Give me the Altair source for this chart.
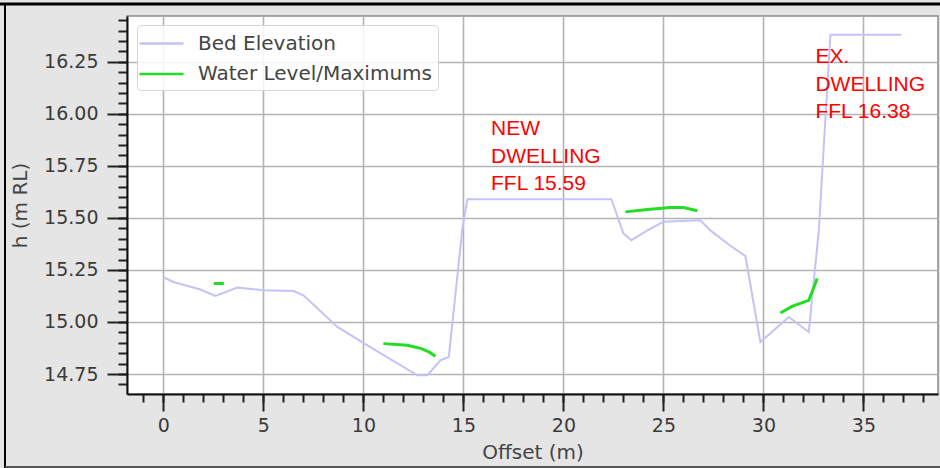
import altair as alt
import pandas as pd

# ---- data ----
bed_x = [0.0, 0.5, 1.85, 2.6, 3.7, 5.0, 6.5, 7.0, 8.7, 10.2, 12.7, 13.2, 13.85, 14.27,
         14.95, 15.2, 22.4, 23.0, 23.4, 24.2, 25.0, 26.85, 27.35, 28.3, 29.1, 29.85,
         31.27, 32.27, 32.77, 33.35, 36.9]
bed_y = [15.215, 15.192, 15.156, 15.125, 15.165, 15.152, 15.149, 15.128, 14.976, 14.888,
         14.744, 14.744, 14.816, 14.832, 15.45, 15.59, 15.59, 15.425, 15.393, 15.44,
         15.481, 15.489, 15.44, 15.37, 15.316, 14.904, 15.024, 14.952, 15.44, 16.38, 16.38]

water_seg = ["a", "a", "b", "b", "b", "b", "b", "c", "c", "c", "c", "c", "d", "d", "d", "d"]
water_x = [2.52, 3.02, 11.0, 12.2, 12.9, 13.3, 13.6, 23.1, 24.2, 25.35, 26.0, 26.7,
           30.85, 31.43, 32.27, 32.69]
water_y = [15.185, 15.185, 14.896, 14.888, 14.872, 14.855, 14.835, 15.529, 15.54, 15.55,
           15.55, 15.534, 15.043, 15.075, 15.104, 15.209]

series_names = ["Bed Elevation", "Water Level/Maximums"]
series_colors = ["#c3c3f6", "#22dd22"]

note_x = [16.38, 32.6]
note_y = [15.898, 16.242]
note_text = ["NEW\nDWELLING\nFFL 15.59", "EX.\nDWELLING\nFFL 16.38"]

x_major = [0, 5, 10, 15, 20, 25, 30, 35]
x_minor = list(range(-1, 39))
y_major = [14.75, 15.00, 15.25, 15.50, 15.75, 16.00, 16.25]
y_minor = [round(14.70 + 0.05 * i, 2) for i in range(36)]

x_domain = [-1.82, 38.73]
y_domain = [14.654, 16.47]

bed_df = pd.DataFrame({"x": bed_x, "y": bed_y, "series": series_names[0]})
water_df = pd.DataFrame({"x": water_x, "y": water_y, "seg": water_seg, "series": series_names[1]})
note_df = pd.DataFrame({"x": note_x, "y": note_y, "t": note_text})

FONT = "DejaVu Sans"
TICK_FS = 19
xs = alt.Scale(domain=x_domain, nice=False, zero=False)
ys = alt.Scale(domain=y_domain, nice=False, zero=False)

color = alt.Color(
    "series:N",
    scale=alt.Scale(domain=series_names, range=series_colors),
    legend=alt.Legend(
        title=None, orient="none", legendX=10, legendY=9,
        symbolType="M-2,0H2", symbolSize=484, symbolStrokeWidth=2.6,
        labelFont=FONT, labelFontSize=20, labelColor="#444444", labelLimit=0,
        fillColor="rgba(255,255,255,0.85)", strokeColor="#d6d6d6", cornerRadius=4,
        padding=6, rowPadding=7.5, symbolOffset=6, labelOffset=24,
    ),
)

x_axis = alt.Axis(
    orient="bottom", values=x_major, title="Offset (m)", tickSize=17, tickWidth=2,
    tickColor="#222222", domainColor="#111111", domainWidth=2,
    labelFont=FONT, labelFontSize=TICK_FS, labelColor="#3a3a3a", labelPadding=5, labelFlush=False,
    grid=True, gridColor="#b3b3b3", gridWidth=1.6,
    titleFont=FONT, titleFontSize=20, titleFontWeight="normal", titleColor="#444444",
    titleY=58, titleBaseline="middle",
)
y_axis = alt.Axis(
    orient="left", values=y_major, format=".2f", title="h (m RL)", tickSize=20, tickWidth=2,
    tickColor="#222222", domainColor="#111111", domainWidth=2,
    labelFont=FONT, labelFontSize=TICK_FS, labelColor="#3a3a3a", labelPadding=9, labelFlush=False,
    labelAlign="right", labelLimit=0,
    grid=True, gridColor="#b3b3b3", gridWidth=1.6,
    titleFont=FONT, titleFontSize=20, titleFontWeight="normal", titleColor="#444444",
    titleX=-107, titleY=189, titleAngle=270, titleBaseline="middle", titleAlign="center",
)
x_minor_axis = alt.Axis(orient="bottom", values=x_minor, labels=False, title=None, grid=False,
                        domain=False, tickSize=8, tickWidth=2, tickColor="#222222")
y_minor_axis = alt.Axis(orient="left", values=y_minor, labels=False, title=None, grid=False,
                        domain=False, tickSize=9, tickWidth=2, tickColor="#222222")

bed = alt.Chart(bed_df).mark_line(strokeWidth=2).encode(
    x=alt.X("x:Q", scale=xs, axis=x_axis),
    y=alt.Y("y:Q", scale=ys, axis=y_axis),
    color=color,
    order="x:Q",
)
water = alt.Chart(water_df).mark_line(strokeWidth=3).encode(
    x=alt.X("x:Q", scale=xs, axis=None),
    y=alt.Y("y:Q", scale=ys, axis=None),
    color=color,
    detail="seg:N",
)
minor = alt.Chart(bed_df).mark_point(opacity=0).encode(
    x=alt.X("x:Q", scale=xs, axis=x_minor_axis),
    y=alt.Y("y:Q", scale=ys, axis=y_minor_axis),
)
notes = alt.Chart(note_df).mark_text(
    align="left", baseline="alphabetic", font="Liberation Sans", fontSize=21,
    lineHeight=27.5, lineBreak="\n", color="#ff0000",
).encode(
    x=alt.X("x:Q", scale=xs, axis=None),
    y=alt.Y("y:Q", scale=ys, axis=None),
    text="t:N",
)

frame_df = pd.DataFrame({"k": [0]})
top_rule = alt.Chart(frame_df).mark_rule(color="#000000", strokeWidth=3).encode(
    x=alt.value(-127), x2=alt.value(813), y=alt.value(-12))
left_rule = alt.Chart(frame_df).mark_rule(color="#000000", strokeWidth=2).encode(
    x=alt.value(-122), y=alt.value(-13), y2=alt.value(452))
bottom_rule = alt.Chart(frame_df).mark_rule(color="#555555", strokeWidth=2).encode(
    x=alt.value(-122), x2=alt.value(813), y=alt.value(451))

chart = alt.layer(minor, bed, water, notes, top_rule, left_rule, bottom_rule).resolve_axis(
    x="independent", y="independent"
).properties(
    width=811, height=378,
    autosize=alt.AutoSizeParams(type="none"),
    padding={"left": 127, "top": 16, "right": 2, "bottom": 74},
    background="#e5e5e5",
).configure_view(
    fill="#ffffff", stroke="#8c8c8c", strokeWidth=1.5,
).configure_axis(
    labelFont=FONT, labelFontSize=TICK_FS,
)

chart.save("out.html", embed_options={"renderer": "svg", "actions": False})
